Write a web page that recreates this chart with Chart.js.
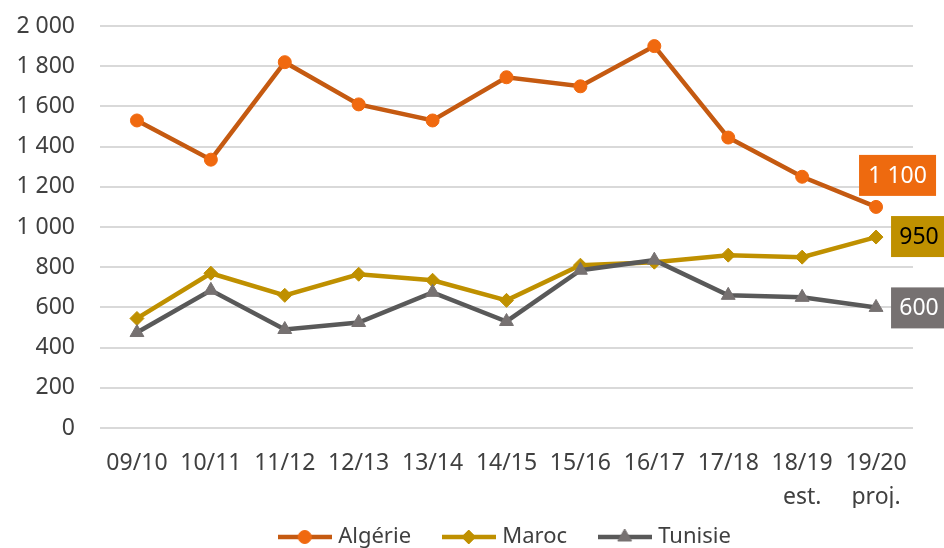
<!DOCTYPE html>
<html lang="fr">
<head>
  <meta charset="UTF-8">
  <title>Algérie, Maroc, Tunisie</title>
  <script src="https://cdn.jsdelivr.net/npm/chart.js"></script>
  <style>
    html, body { margin: 0; padding: 0; background: #fff; overflow: hidden; }
    /* cadre visible 944x548, le canevas deborde un peu en bas (legende coupee comme l'original) */
    #frame { width: 944px; height: 548px; overflow: hidden; position: relative; }
    #chart-container { width: 944px; height: 558px; position: relative; }
  </style>
</head>
<body>
  <div id="frame">
    <div id="chart-container">
      <canvas id="lineChart"></canvas>
    </div>
  </div>

  <script>
    // donnees
    const categories = ['09/10', '10/11', '11/12', '12/13', '13/14', '14/15', '15/16', '16/17', '17/18', ['18/19', 'est.'], ['19/20', 'proj.']];
    const seriesNames = ['Algérie', 'Maroc', 'Tunisie'];
    const algerie = [1530, 1335, 1820, 1610, 1530, 1745, 1700, 1900, 1445, 1250, 1100];
    const maroc = [545, 770, 660, 765, 735, 635, 810, 825, 860, 850, 950];
    const tunisie = [475, 685, 490, 525, 675, 530, 785, 835, 660, 650, 600];
    const yTicks = [0, 200, 400, 600, 800, 1000, 1200, 1400, 1600, 1800, 2000];

    const FONT = '"Noto Sans", "Open Sans", sans-serif';
    Chart.defaults.font.family = FONT;
    Chart.defaults.color = '#404040';

    // 2000 -> "2 000"
    function fmt(v) {
      return String(v).replace(/\B(?=(\d{3})+(?!\d))/g, ' ');
    }

    // symbole de legende : trait + marqueur
    function legendSymbol(ds) {
      const c = document.createElement('canvas');
      c.width = 54; c.height = 20;
      const g = c.getContext('2d');
      g.strokeStyle = ds.borderColor;
      g.lineWidth = ds.borderWidth;
      g.beginPath();
      g.moveTo(0, 10); g.lineTo(54, 10);
      g.stroke();
      g.fillStyle = ds.pointBackgroundColor;
      g.strokeStyle = ds.pointBorderColor;
      g.lineWidth = 1;
      Chart.helpers.drawPoint(g, { pointStyle: ds.pointStyle, radius: ds.pointRadius, borderWidth: 1, rotation: 0 }, 27, 10);
      return c;
    }

    // etiquettes sur le dernier point
    const endLabels = {
      id: 'endLabels',
      afterDatasetsDraw(chart, args, opts) {
        const ctx = chart.ctx;
        opts.items.forEach(item => {
          const meta = chart.getDatasetMeta(item.dataset);
          const last = meta.data.length - 1;
          const pt = meta.data[last];
          const value = chart.data.datasets[item.dataset].data[last];
          const x = pt.x + item.dx, y = pt.y + item.dy;
          ctx.save();
          ctx.fillStyle = item.bg;
          ctx.fillRect(x, y, item.w, item.h);
          ctx.fillStyle = item.color;
          ctx.font = '23px ' + FONT;
          ctx.textAlign = 'center';
          ctx.textBaseline = 'middle';
          ctx.fillText(fmt(value), x + item.w / 2, y + item.h / 2 + 1);
          ctx.restore();
        });
      }
    };

    const ctx = document.getElementById('lineChart').getContext('2d');
    const chart = new Chart(ctx, {
      type: 'line',
      data: {
        labels: categories,
        datasets: [
          {
            label: seriesNames[0],
            data: algerie,
            borderColor: '#C55A11',
            borderWidth: 4.5,
            pointStyle: 'circle',
            pointRadius: 6.5,
            pointBackgroundColor: '#F0690F',
            pointBorderColor: '#F0690F',
            pointBorderWidth: 1,
            order: 0
          },
          {
            label: seriesNames[1],
            data: maroc,
            borderColor: '#BF9000',
            borderWidth: 4.5,
            pointStyle: 'rectRot',
            pointRadius: 7,
            pointBackgroundColor: '#BF9000',
            pointBorderColor: '#BF9000',
            pointBorderWidth: 1,
            order: 2
          },
          {
            label: seriesNames[2],
            data: tunisie,
            borderColor: '#595959',
            borderWidth: 4.5,
            pointStyle: 'triangle',
            pointRadius: 8,
            pointBackgroundColor: '#767171',
            pointBorderColor: '#767171',
            pointBorderWidth: 1,
            order: 1
          }
        ]
      },
      options: {
        responsive: true,
        maintainAspectRatio: false,
        animation: false,
        layout: { padding: { top: 26, left: 0, right: 31, bottom: 0 } },
        scales: {
          x: {
            offset: true,
            grid: { display: false, drawTicks: false },
            border: { display: false },
            ticks: {
              padding: 18,
              maxRotation: 0,
              autoSkip: false,
              color: '#404040',
              font: { size: 23, lineHeight: 1.48 }
            },
            afterFit(scale) { scale.height = 80; }
          },
          y: {
            min: 0,
            max: 2000,
            afterBuildTicks(scale) { scale.ticks = yTicks.map(v => ({ value: v })); },
            grid: { color: '#D9D9D9', lineWidth: 2, drawTicks: false },
            border: { display: false },
            ticks: {
              padding: 25,
              color: '#404040',
              font: { size: 23 },
              callback: v => fmt(v)
            },
            afterFit(scale) {
              scale.width = 100;
              // la marge des graduations ne doit pas pousser la zone du graphique
              scale.paddingTop = 14;
              scale.paddingBottom = 14;
            }
          }
        },
        plugins: {
          legend: {
            position: 'bottom',
            fullSize: false,
            labels: {
              usePointStyle: true,
              pointStyleWidth: 45,
              padding: 18,
              color: '#404040',
              font: { size: 22 },
              generateLabels(chart) {
                const items = Chart.defaults.plugins.legend.labels.generateLabels(chart);
                items.sort((a, b) => a.datasetIndex - b.datasetIndex);
                items.forEach((it, i) => {
                  it.pointStyle = legendSymbol(chart.data.datasets[it.datasetIndex]);
                  // espace entre les entrees
                  if (i < items.length - 1) it.text += '   ';
                });
                return items;
              }
            }
          },
          tooltip: { enabled: false },
          endLabels: {
            items: [
              { dataset: 0, dx: -17, dy: -52, w: 77, h: 41, bg: '#EE6A0F', color: '#FFFFFF' },
              { dataset: 1, dx: 15, dy: -21, w: 56, h: 41, bg: '#BF9000', color: '#000000' },
              { dataset: 2, dx: 15, dy: -20, w: 56, h: 41, bg: '#767171', color: '#FFFFFF' }
            ]
          }
        }
      },
      plugins: [endLabels]
    });
  </script>
</body>
</html>
